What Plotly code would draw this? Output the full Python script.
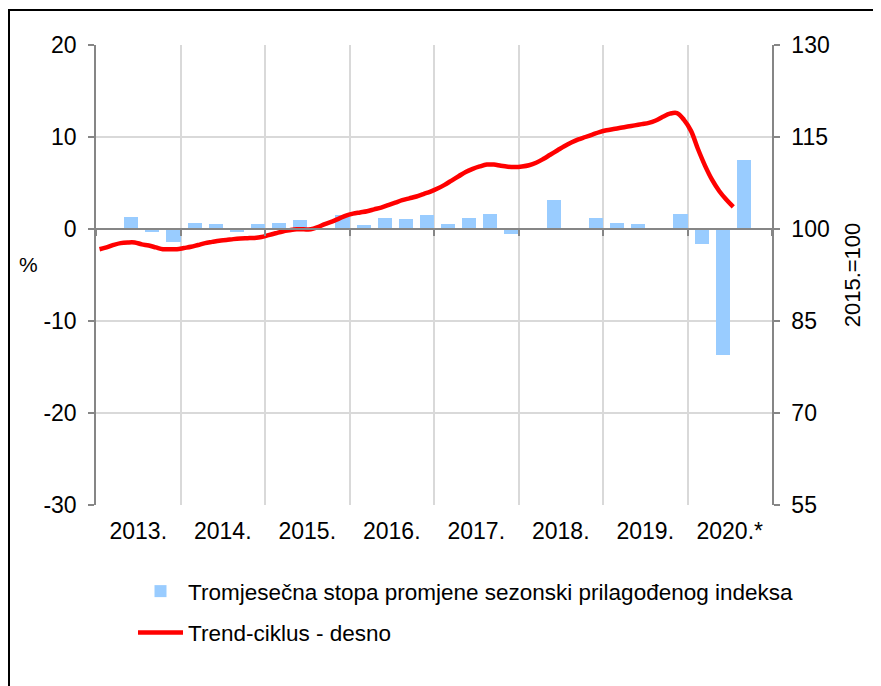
import plotly.graph_objects as go

# ---- data ----
year_labels = ["2013.", "2014.", "2015.", "2016.", "2017.", "2018.", "2019.", "2020.*"]
left_ticks = [-30, -20, -10, 0, 10, 20]
left_tick_text = ["-30", "-20", "-10", "0", "10", "20"]
right_ticks = [55, 70, 85, 100, 115, 130]
quarter_labels = [f"{y}Q{q}" for y in range(2013, 2021) for q in range(1, 5)][:31]
quarterly_change = [
    0.0, 1.3, -0.3, -1.4,
    0.7, 0.55, -0.3, 0.55,
    0.7, 1.0, 0.1, 1.5,
    0.4, 1.2, 1.1, 1.5,
    0.5, 1.2, 1.6, -0.5,
    0.0, 3.2, 0.0, 1.2,
    0.65, 0.5, 0.0, 1.6,
    -1.6, -13.7, 7.5,
]
trend_cycle = [
    96.7, 97.0, 97.4, 97.7, 97.8, 97.8, 97.5, 97.3, 97.0, 96.7, 96.7, 96.7,
    96.9, 97.1, 97.4, 97.7, 97.9, 98.1, 98.2, 98.35, 98.45, 98.5, 98.55, 98.7,
    99.0, 99.3, 99.6, 99.8, 99.95, 99.95, 99.95, 100.3, 100.8, 101.2, 101.7, 102.2,
    102.5, 102.7, 102.9, 103.2, 103.5, 103.9, 104.3, 104.7, 105.0, 105.3, 105.7, 106.1,
    106.6, 107.2, 107.9, 108.6, 109.3, 109.8, 110.2, 110.5, 110.5, 110.3, 110.15, 110.1,
    110.2, 110.4, 110.8, 111.4, 112.1, 112.8, 113.5, 114.1, 114.6, 115.0, 115.4, 115.8,
    116.1, 116.3, 116.5, 116.7, 116.9, 117.1, 117.3, 117.7, 118.3, 118.8, 118.9, 117.8,
    116.0, 113.0, 110.3, 108.0, 106.2, 104.8, 103.6,
]

# month-based positions (0 = start of Jan 2013)
bar_x = [3 * i + 2 for i in range(len(quarterly_change))]
line_x = [m + 0.5 for m in range(len(trend_cycle))]
year_centers = [12 * i + 6 for i in range(len(year_labels))]
year_bounds = [12 * i for i in range(len(year_labels) + 1)]

FONT = "Liberation Sans, Arial, sans-serif"
AXIS_GRAY = "#868686"
GRID_GRAY = "#d9d9d9"

# page body has an 8px margin: figure is sized so the plot lands where the reference has it
W, H = 873, 678
ML, MR, MT, MB = 88, 109, 37, 181
PW, PH = W - ML - MR, H - MT - MB


def px_x(px):  # page px -> paper x
    return (px - 8 - ML) / PW


def px_y(py):  # page px -> paper y
    return (H - MB - (py - 8)) / PH


fig = go.Figure()
fig.add_trace(go.Bar(
    x=bar_x, y=quarterly_change, width=2,
    marker=dict(color="#99ccff", line=dict(width=0)),
    name="Tromjesečna stopa promjene sezonski prilagođenog indeksa",
    customdata=quarter_labels, yaxis="y", legendgroup="a",
))
fig.add_trace(go.Scatter(
    x=line_x, y=trend_cycle, mode="lines",
    line=dict(color="#ff0000", width=4.5, shape="spline"),
    name="Trend-ciklus - desno", yaxis="y2", legendgroup="b",
))
fig.add_trace(go.Scatter(x=[], y=[], xaxis="x3", yaxis="y", showlegend=False))

fig.update_layout(
    width=W, height=H,
    margin=dict(l=ML, r=MR, t=MT, b=MB, autoexpand=False),
    paper_bgcolor="white", plot_bgcolor="white",
    font=dict(family=FONT, size=23, color="#000000"),
    showlegend=True,
    bargap=0,
    legend=dict(
        x=px_x(133), y=px_y(570), xanchor="left", yanchor="top",
        font=dict(size=22.5), bgcolor="rgba(0,0,0,0)",
        itemwidth=45, traceorder="grouped", tracegroupgap=9,
    ),
    xaxis=dict(
        range=[0, 96], tickmode="array", tickvals=year_centers, ticktext=year_labels,
        showgrid=False, ticks="", showline=False, zeroline=False, automargin=False,
        tickfont=dict(size=23), ticklabelstandoff=10,
        minor=dict(tickmode="array", tickvals=year_bounds, showgrid=True,
                   gridcolor=GRID_GRAY, gridwidth=1.5, ticks=""),
    ),
    xaxis3=dict(
        overlaying="x", anchor="free", position=0.6, range=[0, 96],
        tickmode="array", tickvals=year_bounds, showticklabels=False,
        ticks="outside", ticklen=6, tickcolor=AXIS_GRAY, tickwidth=1.5,
        showline=True, linecolor=AXIS_GRAY, linewidth=2, showgrid=False, zeroline=False,
    ),
    yaxis=dict(
        range=[-30, 20], tickmode="array", tickvals=left_ticks, ticktext=left_tick_text,
        showgrid=True, gridcolor=GRID_GRAY, gridwidth=1.5, automargin=False,
        zeroline=False, showline=True, linecolor=AXIS_GRAY, linewidth=1.5,
        ticks="outside", ticklen=6, tickcolor=AXIS_GRAY, tickwidth=1.5,
        tickfont=dict(size=23), ticklabelstandoff=7,
    ),
    yaxis2=dict(
        range=[55, 130], tickmode="array", tickvals=right_ticks, overlaying="y", side="right",
        showgrid=False, zeroline=False, showline=True, linecolor=AXIS_GRAY, linewidth=1.5,
        ticks="outside", ticklen=6, tickcolor=AXIS_GRAY, tickwidth=1.5, automargin=False,
        tickfont=dict(size=23), ticklabelstandoff=7,
        title=dict(text="2015.=100", font=dict(size=22), standoff=16),
    ),
    annotations=[dict(
        text="%", xref="paper", yref="paper", x=px_x(28), y=px_y(264),
        showarrow=False, font=dict(size=21), xanchor="center", yanchor="middle",
    )],
)
fig.data[0].update(xaxis="x")
fig.data[1].update(xaxis="x")

# outer frame
fig.add_shape(type="rect", xref="paper", yref="paper",
              x0=px_x(9), x1=px_x(900), y0=px_y(720), y1=px_y(10),
              line=dict(color="black", width=2), fillcolor="rgba(0,0,0,0)", layer="below")

fig.write_html("out.html")
